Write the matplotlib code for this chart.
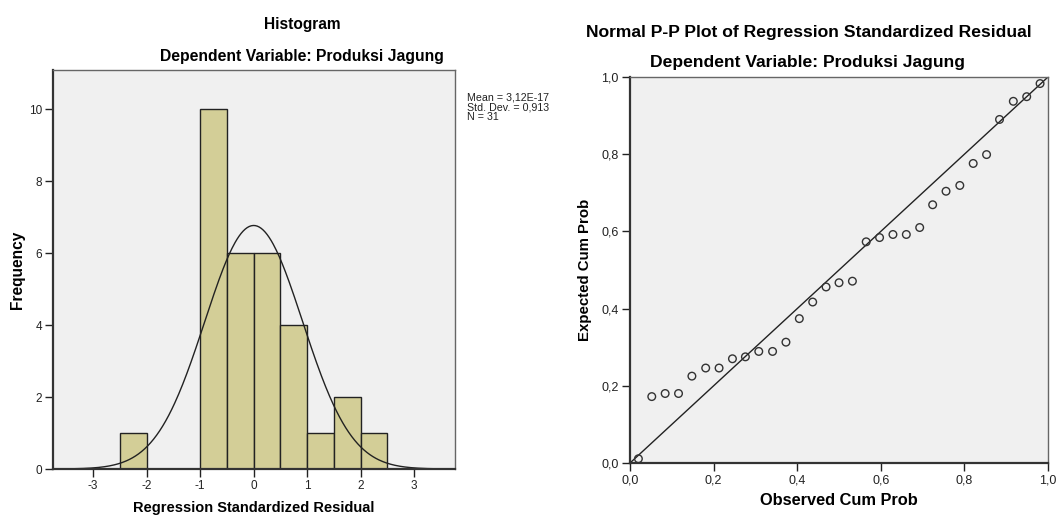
import numpy as np
import matplotlib.pyplot as plt
from matplotlib.ticker import FuncFormatter

plt.rcParams['font.family'] = ['Liberation Sans', 'DejaVu Sans']
plt.rcParams['axes.unicode_minus'] = False

# histogram of standardized residuals (bin edges and counts)
bin_edges = [-2.5, -2.0, -1.5, -1.0, -0.5, 0.0, 0.5, 1.0, 1.5, 2.0, 2.5]
counts = [1, 0, 0, 10, 6, 6, 4, 1, 2, 1]
res_mean = 3.12e-17
res_sd = 0.913
res_n = 31

# normal P-P plot points
observed = [0.020, 0.052, 0.084, 0.116, 0.148, 0.181, 0.213, 0.245, 0.276, 0.308,
            0.341, 0.373, 0.405, 0.437, 0.469, 0.500, 0.532, 0.565, 0.597, 0.629,
            0.661, 0.693, 0.724, 0.756, 0.789, 0.821, 0.853, 0.884, 0.917, 0.949, 0.981]
expected = [0.011, 0.172, 0.180, 0.180, 0.225, 0.246, 0.246, 0.270, 0.275, 0.289,
            0.289, 0.313, 0.374, 0.417, 0.456, 0.467, 0.471, 0.573, 0.584, 0.592,
            0.592, 0.610, 0.669, 0.704, 0.719, 0.776, 0.799, 0.890, 0.937, 0.949, 0.983]

bg = '#f0f0f0'
bar_col = '#d3ce97'
comma = FuncFormatter(lambda v, p: ('%.1f' % v).replace('.', ','))


def style_axes(ax, labelsize):
    ax.set_facecolor(bg)
    for s in ax.spines.values():
        s.set_color('#666666')
        s.set_linewidth(1.0)
    for k in ('left', 'bottom'):
        ax.spines[k].set_linewidth(1.6)
        ax.spines[k].set_color('#333333')
    ax.tick_params(direction='out', length=6, width=1, colors='#222222',
                   labelsize=labelsize, pad=2)


fig = plt.figure(figsize=(10.63, 5.15), dpi=100)

# ---- histogram ----
ax1 = fig.add_axes([0.0499, 0.0893, 0.378, 0.775])
style_axes(ax1, 8.5)
widths = np.diff(bin_edges)
ax1.bar(bin_edges[:-1], counts, width=widths, align='edge', color=bar_col,
        edgecolor='#222222', linewidth=1.0)
xs = np.linspace(-3.75, 3.75, 400)
binw = widths[0]
curve = res_n * binw / (res_sd * np.sqrt(2 * np.pi)) * np.exp(-0.5 * ((xs - res_mean) / res_sd) ** 2)
ax1.plot(xs, curve, color='#222222', linewidth=1.0)
ax1.set_xlim(-3.75, 3.76)
ax1.set_ylim(0, 11.1)
ax1.set_xticks([-3, -2, -1, 0, 1, 2, 3])
ax1.set_yticks([0, 2, 4, 6, 8, 10])
ax1.set_ylabel('Frequency', fontsize=11.2, fontweight='bold')
ax1.yaxis.set_label_coords(-0.071, 0.5)
ax1.set_xlabel('Regression Standardized Residual', fontsize=10.5, fontweight='bold')
ax1.xaxis.set_label_coords(0.5, -0.080)
fig.text(302 / 1063, 1 - 25 / 515, 'Histogram', ha='center', va='center',
         fontsize=11.2, fontweight='bold')
fig.text(302 / 1063, 1 - 57 / 515, 'Dependent Variable: Produksi Jagung', ha='center',
         va='center', fontsize=11.3, fontweight='bold')
fig.text(467 / 1063, 1 - 92 / 515,
         'Mean = 3,12E-17\nStd. Dev. = 0,913\nN = %d' % res_n,
         ha='left', va='top', fontsize=7.7, linespacing=1.02, color='#222222')

# ---- P-P plot ----
ax2 = fig.add_axes([0.5927, 0.101, 0.3932, 0.7495])
style_axes(ax2, 9)
ax2.plot([0, 1], [0, 1], color='#222222', linewidth=1.0)
ax2.scatter(observed, expected, s=30, facecolors='none', edgecolors='#333333',
            linewidths=1.0, zorder=3)
ax2.set_xlim(0, 1)
ax2.set_ylim(0, 1)
ax2.set_xticks([0, 0.2, 0.4, 0.6, 0.8, 1.0])
ax2.set_yticks([0, 0.2, 0.4, 0.6, 0.8, 1.0])
ax2.xaxis.set_major_formatter(comma)
ax2.yaxis.set_major_formatter(comma)
ax2.set_ylabel('Expected Cum Prob', fontsize=10.8, fontweight='bold')
ax2.yaxis.set_label_coords(-0.090, 0.5)
ax2.set_xlabel('Observed Cum Prob', fontsize=11.8, fontweight='bold')
ax2.xaxis.set_label_coords(0.5, -0.078)
fig.text(809 / 1063, 1 - 33 / 515, 'Normal P-P Plot of Regression Standardized Residual',
         ha='center', va='center', fontsize=12.6, fontweight='bold')
fig.text(808 / 1063, 1 - 63 / 515, 'Dependent Variable: Produksi Jagung', ha='center',
         va='center', fontsize=12.6, fontweight='bold')

fig.savefig('out.png', dpi=100)
